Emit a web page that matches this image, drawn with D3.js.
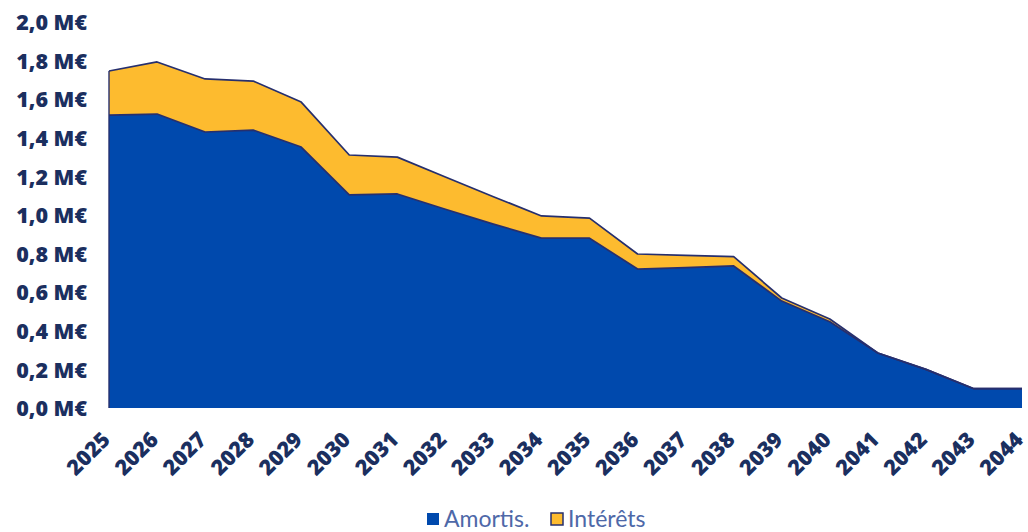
<!DOCTYPE html>
<html>
<head>
<meta charset="utf-8">
<script src="https://cdn.jsdelivr.net/npm/d3@7"></script>
<style>
  html, body { margin: 0; padding: 0; background: #ffffff; }
  svg { display: block; }
</style>
</head>
<body>
<svg id="chart" width="1028" height="532"></svg>
<script>
// Années du plan de remboursement
const years = [2025, 2026, 2027, 2028, 2029, 2030, 2031, 2032, 2033, 2034,
               2035, 2036, 2037, 2038, 2039, 2040, 2041, 2042, 2043, 2044];
// Amortissement du capital (M€)
const amortis = [1.518, 1.523, 1.430, 1.440, 1.352, 1.104, 1.109, 1.030, 0.953, 0.880,
                 0.880, 0.720, 0.727, 0.736, 0.554, 0.447, 0.285, 0.200, 0.100, 0.100];
// Intérêts (M€)
const interets = [0.228, 0.270, 0.275, 0.254, 0.233, 0.207, 0.191, 0.167, 0.142, 0.115,
                  0.104, 0.078, 0.064, 0.048, 0.016, 0.014, 0.000, 0.000, 0.000, 0.000];
// Graduations de l'axe vertical
const yTicks = [0, 0.2, 0.4, 0.6, 0.8, 1.0, 1.2, 1.4, 1.6, 1.8, 2.0];
const seriesNames = ["Amortis.", "Intérêts"];

const colors = { amortis: "#0049ad", interets: "#fdbb2f", outline: "#262f6e", text: "#1b2f5f", legend: "#4e68a8" };

const svg = d3.select("#chart");
const margin = { left: 109, right: 6, top: 22, bottom: 124 };
const W = 1028, H = 532;

const x = d3.scalePoint().domain(years).range([margin.left, W - margin.right]);
const y = d3.scaleLinear().domain([0, 2.0]).range([H - margin.bottom, margin.top]);

const rows = years.map((yr, i) => ({ year: yr, amortis: amortis[i], interets: interets[i] }));
const stack = d3.stack().keys(["amortis", "interets"]);
const layers = stack(rows);

const area = d3.area()
  .x(d => x(d.data.year))
  .y0(d => y(d[0]))
  .y1(d => y(d[1]));

const topLine = d3.line()
  .x(d => x(d.data.year))
  .y(d => y(d[1]));

// Aires empilées
svg.append("g").selectAll("path.area")
  .data(layers)
  .join("path")
  .attr("class", "area")
  .attr("d", area)
  .attr("fill", d => colors[d.key]);

// Contours supérieurs des aires
svg.append("g").selectAll("path.edge")
  .data(layers)
  .join("path")
  .attr("class", "edge")
  .attr("d", topLine)
  .attr("fill", "none")
  .attr("stroke", colors.outline)
  .attr("stroke-width", 1.7)
  .attr("stroke-linejoin", "round");

// Bord gauche de la pile
svg.append("line")
  .attr("x1", x(years[0])).attr("x2", x(years[0]))
  .attr("y1", y(0)).attr("y2", y(amortis[0] + interets[0]))
  .attr("stroke", colors.outline).attr("stroke-width", 1.4);

// Axe vertical
const yAxis = d3.axisLeft(y)
  .tickValues(yTicks)
  .tickSize(0)
  .tickPadding(0)
  .tickFormat(v => d3.format(".1f")(v).replace(".", ",") + " M€");

const gy = svg.append("g")
  .attr("transform", `translate(${87},0)`)
  .call(yAxis);
gy.select(".domain").remove();
gy.selectAll("text")
  .attr("fill", colors.text)
  .attr("font-family", "'Open Sans', sans-serif")
  .attr("font-weight", 800)
  .attr("font-size", 21.5)
  .attr("dy", "0.36em");

// Axe horizontal
const xAxis = d3.axisBottom(x).tickSize(0).tickPadding(0).tickFormat(d3.format("d"));
const gx = svg.append("g")
  .attr("transform", `translate(0,${y(0)})`)
  .call(xAxis);
gx.select(".domain").remove();
gx.selectAll("text")
  .attr("fill", colors.text)
  .attr("font-family", "'Open Sans', sans-serif")
  .attr("font-weight", 800)
  .attr("font-size", 21.5)
  .attr("text-anchor", "end")
  .attr("dy", 0)
  .attr("transform", "translate(2,33) rotate(-45)");

// Légende
const legend = svg.append("g").attr("transform", "translate(427,513)");
const items = [
  { name: seriesNames[0], fill: colors.amortis, stroke: "none", x: 0 },
  { name: seriesNames[1], fill: colors.interets, stroke: colors.outline, x: 124 }
];
const li = legend.selectAll("g").data(items).join("g")
  .attr("transform", d => `translate(${d.x},0)`);
li.append("rect")
  .attr("width", 12).attr("height", 12)
  .attr("fill", d => d.fill)
  .attr("stroke", d => d.stroke)
  .attr("stroke-width", 1.5);
li.append("text")
  .attr("x", 17).attr("y", 14)
  .attr("fill", colors.legend)
  .attr("font-family", "Lato, sans-serif")
  .attr("font-size", 23)
  .text(d => d.name);
</script>
</body>
</html>
